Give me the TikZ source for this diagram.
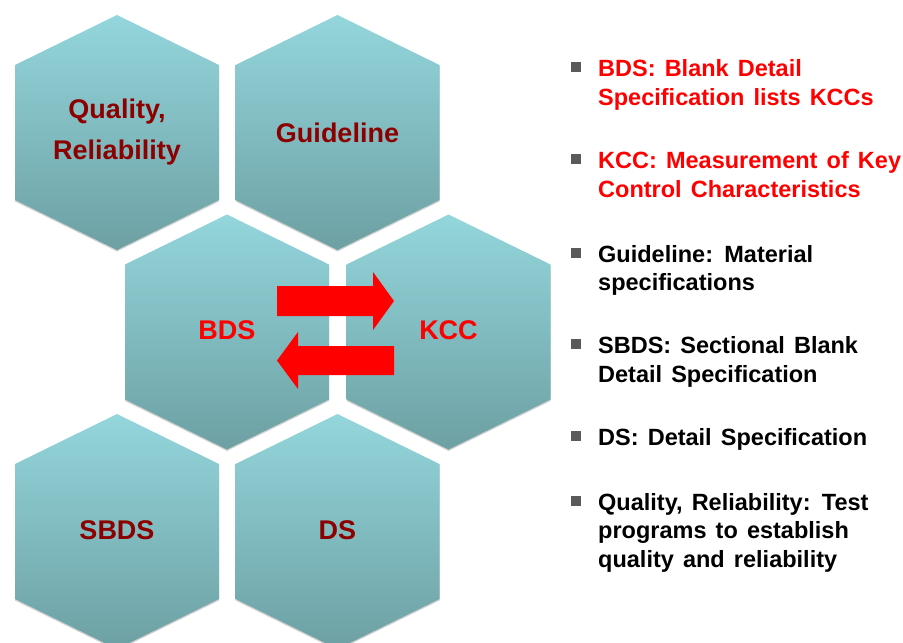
\documentclass[tikz,border=0pt]{standalone}
\usepackage{fontspec}
\setmainfont{Liberation Sans}
\newfontfamily\itemfont[WordSpace=1.4]{Liberation Sans}
\definecolor{hextop}{RGB}{147,214,220}
\definecolor{hexbot}{RGB}{109,160,163}
\definecolor{lbldark}{RGB}{140,0,0}
\definecolor{lblred}{RGB}{255,0,0}
\definecolor{bulletgray}{RGB}{90,90,90}
\tikzset{
  hexfill/.style={top color=hextop, bottom color=hexbot, draw=none},
  hexshadow/.style={fill=black, opacity=0.18, draw=none},
  hexlabel/.style={font=\fontsize{27}{41}\selectfont\bfseries, align=center, inner sep=0pt},
  bulletsq/.style={fill=bulletgray, minimum size=10pt, inner sep=0pt, draw=none},
  itemtext/.style={font=\itemfont\fontsize{23.5}{29}\selectfont\bfseries, anchor=base west, inner sep=0pt},
  blockarrow/.style={fill=lblred, draw=none}
}
\newcommand\hexat[2]{%
  \path[hexshadow] (#1,#2+1.5) ++(0,-117.5) -- ++(102,50) -- ++(0,135) -- ++(-102,50) -- ++(-102,-50) -- ++(0,-135) -- cycle;
  \path[hexfill] (#1,#2) ++(0,-117.5) -- ++(102,50) -- ++(0,135) -- ++(-102,50) -- ++(-102,-50) -- ++(0,-135) -- cycle;}
\begin{document}
\begin{tikzpicture}[x=1pt,y=-1pt]
\useasboundingbox (0,0) rectangle (903,643);
% hexagons
\hexat{117}{132.5}
\hexat{337.5}{132.5}
\hexat{227}{332}
\hexat{448.5}{332}
\hexat{117}{531.5}
\hexat{337.5}{531.5}
% labels
\node[hexlabel, text=lbldark] (qr) at (117,132) {Quality,\\Reliability};
\node[hexlabel, text=lbldark] (gl) at (337.5,132.5) {Guideline};
\node[hexlabel, text=lblred] (bds) at (227,330) {BDS};
\node[hexlabel, text=lblred] (kcc) at (448.5,330) {KCC};
\node[hexlabel, text=lbldark] (sbds) at (117,530) {SBDS};
\node[hexlabel, text=lbldark] (ds) at (337.5,530) {DS};
% block arrows
\coordinate (ra) at (277,301);
\coordinate (la) at (394,360.5);
\fill[blockarrow] (ra) ++(0,-15) -- ++(96,0) -- ++(0,-14) -- ++(21,29) -- ++(-21,29) -- ++(0,-14) -- ++(-96,0) -- cycle;
\fill[blockarrow] (la) ++(0,-14.5) -- ++(-96,0) -- ++(0,-14) -- ++(-21,28.5) -- ++(21,28.5) -- ++(0,-14) -- ++(96,0) -- cycle;
% bullet list
\foreach \y/\n in {76/1,168/2,262/3,353/4,445/5,510/6}{
  \node[bulletsq] (b\n) at (576,\y-9) {};
}
\node[itemtext, text=lblred] (t1a) at (598,76) {BDS: Blank Detail};
\node[itemtext, text=lblred] (t1b) at (598,105) {Specification lists KCCs};
\node[itemtext, text=lblred] (t2a) at (598,168) {KCC: Measurement of Key};
\node[itemtext, text=lblred] (t2b) at (598,197) {Control Characteristics};
\node[itemtext] (t3a) at (598,262) {Guideline: Material};
\node[itemtext] (t3b) at (598,290) {specifications};
\node[itemtext] (t4a) at (598,353) {SBDS: Sectional Blank};
\node[itemtext] (t4b) at (598,382) {Detail Specification};
\node[itemtext] (t5a) at (598,445) {DS: Detail Specification};
\node[itemtext] (t6a) at (598,510) {Quality, Reliability: Test};
\node[itemtext] (t6b) at (598,538) {programs to establish};
\node[itemtext] (t6c) at (598,567) {quality and reliability};
\end{tikzpicture}
\end{document}
